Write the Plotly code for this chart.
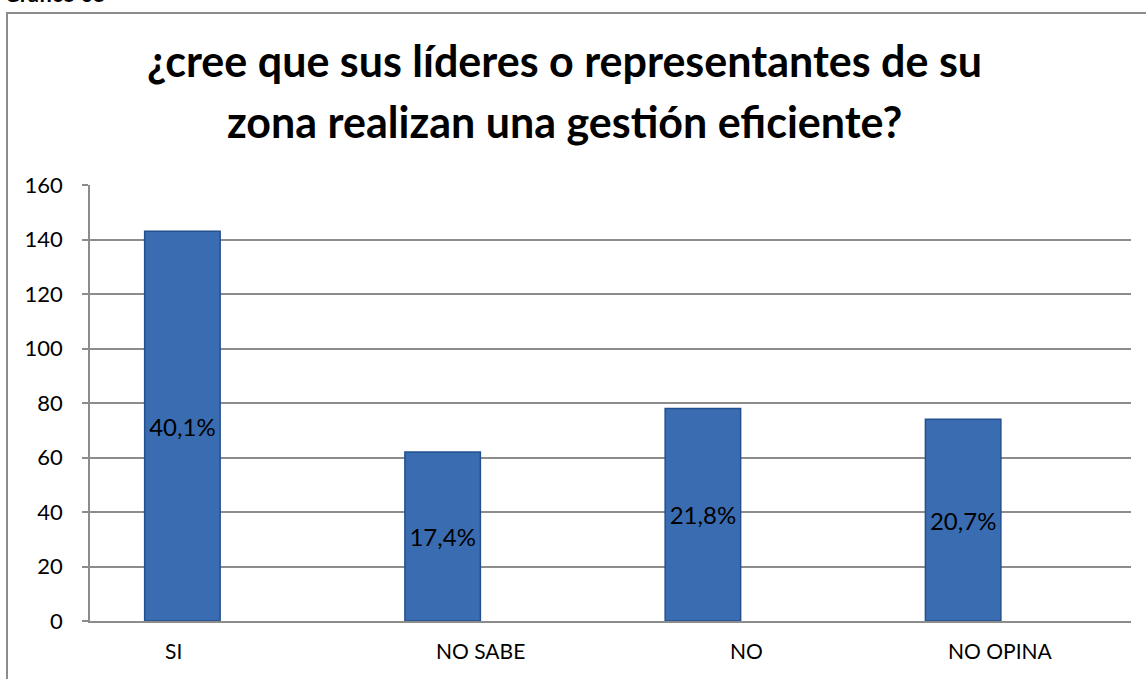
import plotly.graph_objects as go

# ── Dados ────────────────────────────────────────────────────────────────────
categorias = ["SI", "NO SABE", "NO", "NO OPINA"]
valores = [143, 62, 78, 74]
rotulos = ["40,1%", "17,4%", "21,8%", "20,7%"]
titulo_l1 = "¿cree que sus líderes o representantes de su"
titulo_l2 = "zona realizan una gestión eficiente?"
y_ticks = [0, 20, 40, 60, 80, 100, 120, 140, 160]

FONTE = "Lato"
CINZA = "#8C8C8C"

fig = go.Figure()
# barra deslocada à esquerda do centro da categoria, como no Excel (2 séries)
fig.add_trace(go.Bar(
  x=categorias, y=valores, text=rotulos,
  width=0.29, offset=-0.29,
  marker=dict(color="#3A6CB2", line=dict(color="#23508E", width=1.5)),
  textposition="inside", insidetextanchor="middle",
  textfont=dict(family=FONTE, size=24, color="#000000"),
  constraintext="none",
))

fig.update_layout(
  width=1146, height=679,
  margin=dict(l=90, r=15, t=185, b=58),
  paper_bgcolor="white", plot_bgcolor="white",
  showlegend=False,
  font=dict(family=FONTE, color="#000000"),
)

fig.update_yaxes(
  range=[0, 160], tickvals=y_ticks,
  showgrid=True, gridcolor=CINZA, gridwidth=1.5,
  showline=True, linecolor=CINZA, linewidth=1.5,
  ticks="outside", ticklen=6, tickcolor=CINZA, tickwidth=1.5,
  ticklabelstandoff=15,
  tickfont=dict(family=FONTE, size=22, color="#000000"),
  zeroline=False,
)
fig.update_xaxes(
  showline=True, linecolor=CINZA, linewidth=1.5,
  ticks="", showticklabels=False,
)

# rótulos das categorias (o "SI" fica mais à esquerda no original)
desloc = {"SI": -47, "NO": 6}
for cat in categorias:
  fig.add_annotation(
    text=cat, x=cat, xref="x", y=-0.068, yref="paper",
    xshift=desloc.get(cat, 0), showarrow=False,
    xanchor="center", yanchor="middle",
    font=dict(family=FONTE, size=21, color="#000000"),
  )

# ── Título em duas linhas (espaçamento como no original) ───────────────────
def _px_y(py):
  return (621 - py) / 436

def _px_x(px):
  return (px - 90) / 1041

for linha, py in [(titulo_l1, 61), (titulo_l2, 122)]:
  fig.add_annotation(
    text=f"<b>{linha}</b>", xref="paper", yref="paper",
    x=_px_x(564), y=_px_y(py), xanchor="center", yanchor="middle",
    showarrow=False, font=dict(family=FONTE, size=43, color="#000000"),
  )

# rótulo "Gráfico 05" cortado no topo
fig.add_annotation(
  text="<b>Gráfico 05</b>", xref="paper", yref="paper",
  x=_px_x(2), y=_px_y(-6), xanchor="left", yanchor="middle",
  showarrow=False, font=dict(family=FONTE, size=22, color="#000000"),
)

# moldura do gráfico
fig.add_shape(
  type="rect", xref="paper", yref="paper",
  x0=_px_x(7), x1=_px_x(1160), y0=_px_y(700), y1=_px_y(13),
  line=dict(color=CINZA, width=2), layer="below",
)

fig.write_html(
  "out.html",
  config={"displayModeBar": False},
  post_script="document.body.style.margin='0';",
)
